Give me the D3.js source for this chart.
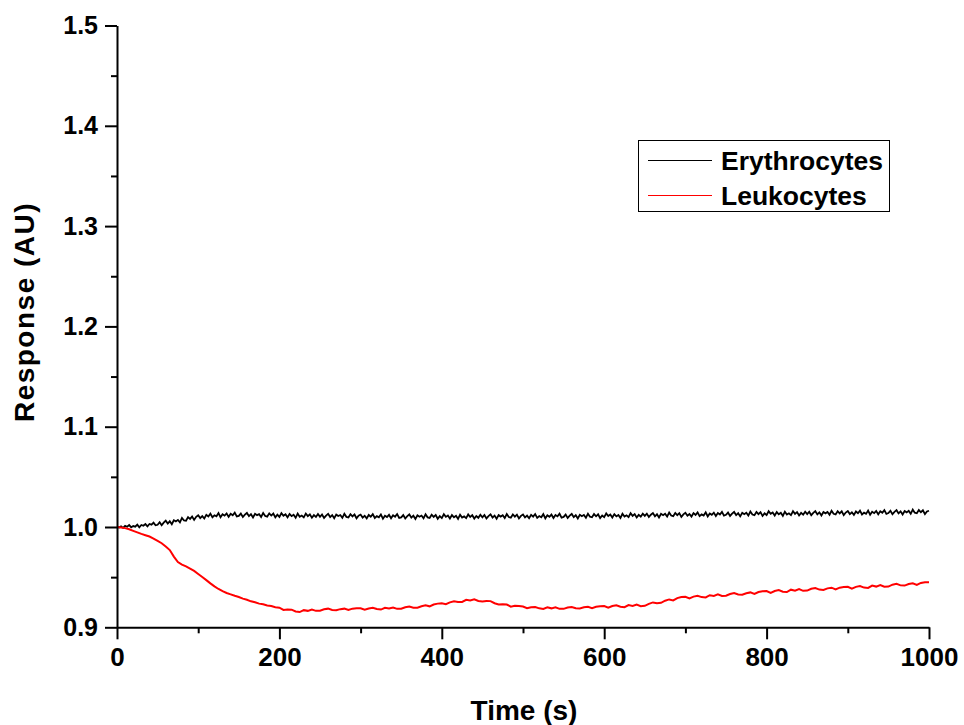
<!DOCTYPE html>
<html>
<head>
<meta charset="utf-8">
<script src="https://cdn.jsdelivr.net/npm/d3@7/dist/d3.min.js"></script>
<style>
  html, body { margin: 0; padding: 0; background: #fff; }
  svg { display: block; }
  text { font-family: "Liberation Sans", Arial, sans-serif; font-weight: bold; fill: #000; }
</style>
</head>
<body>
<svg id="chart" width="964" height="725"></svg>
<script>
// ---------------- data ----------------
const seriesNames = ["Erythrocytes", "Leukocytes"];
const seriesColors = ["#000000", "#ff0000"];
const seriesTimeSteps = [2.5, 5]; // seconds between samples, each series runs 0 to 1000 s
const xTickValues = [0, 200, 400, 600, 800, 1000];
const xMinorTickValues = [100, 300, 500, 700, 900];
const yTickValues = [0.9, 1.0, 1.1, 1.2, 1.3, 1.4, 1.5];
const yMinorTickValues = [0.95, 1.05, 1.15, 1.25, 1.35, 1.45];

const erythrocytes = [
  1.0000, 0.9994, 1.0006, 0.9991, 1.0012, 1.0003, 1.0019, 0.9997, 1.0009, 1.0003,
  1.0024, 0.9997, 1.0020, 1.0012, 1.0029, 1.0007, 1.0030, 1.0023, 1.0043, 1.0018,
  1.0022, 1.0048, 1.0017, 1.0043, 1.0063, 1.0034, 1.0057, 1.0028, 1.0067, 1.0056,
  1.0071, 1.0047, 1.0091, 1.0065, 1.0063, 1.0099, 1.0081, 1.0105, 1.0071, 1.0101,
  1.0117, 1.0089, 1.0109, 1.0085, 1.0121, 1.0105, 1.0133, 1.0097, 1.0117, 1.0107,
  1.0139, 1.0097, 1.0127, 1.0113, 1.0135, 1.0101, 1.0131, 1.0117, 1.0143, 1.0105,
  1.0111, 1.0134, 1.0100, 1.0123, 1.0140, 1.0108, 1.0128, 1.0096, 1.0132, 1.0118,
  1.0128, 1.0100, 1.0140, 1.0110, 1.0104, 1.0136, 1.0114, 1.0134, 1.0096, 1.0122,
  1.0100, 1.0138, 1.0112, 1.0126, 1.0096, 1.0130, 1.0108, 1.0122, 1.0092, 1.0134,
  1.0102, 1.0114, 1.0096, 1.0134, 1.0108, 1.0126, 1.0092, 1.0118, 1.0100, 1.0130,
  1.0102, 1.0125, 1.0091, 1.0114, 1.0131, 1.0099, 1.0119, 1.0087, 1.0123, 1.0109,
  1.0119, 1.0091, 1.0131, 1.0101, 1.0095, 1.0127, 1.0105, 1.0125, 1.0087, 1.0113,
  1.0124, 1.0094, 1.0112, 1.0086, 1.0120, 1.0102, 1.0128, 1.0090, 1.0108, 1.0096,
  1.0125, 1.0083, 1.0113, 1.0099, 1.0121, 1.0087, 1.0117, 1.0103, 1.0129, 1.0091,
  1.0096, 1.0119, 1.0085, 1.0108, 1.0125, 1.0093, 1.0113, 1.0081, 1.0117, 1.0103,
  1.0114, 1.0086, 1.0126, 1.0096, 1.0090, 1.0122, 1.0100, 1.0120, 1.0082, 1.0108,
  1.0089, 1.0127, 1.0101, 1.0115, 1.0085, 1.0119, 1.0097, 1.0111, 1.0081, 1.0123,
  1.0094, 1.0106, 1.0088, 1.0126, 1.0100, 1.0118, 1.0084, 1.0110, 1.0092, 1.0122,
  1.0097, 1.0120, 1.0086, 1.0109, 1.0126, 1.0094, 1.0114, 1.0082, 1.0118, 1.0104,
  1.0117, 1.0089, 1.0129, 1.0099, 1.0093, 1.0125, 1.0103, 1.0123, 1.0085, 1.0111,
  1.0125, 1.0095, 1.0113, 1.0087, 1.0121, 1.0103, 1.0129, 1.0091, 1.0109, 1.0097,
  1.0128, 1.0086, 1.0116, 1.0102, 1.0124, 1.0090, 1.0120, 1.0106, 1.0132, 1.0094,
  1.0101, 1.0124, 1.0090, 1.0113, 1.0130, 1.0098, 1.0118, 1.0086, 1.0122, 1.0108,
  1.0121, 1.0093, 1.0133, 1.0103, 1.0097, 1.0129, 1.0107, 1.0127, 1.0089, 1.0115,
  1.0098, 1.0136, 1.0110, 1.0124, 1.0094, 1.0128, 1.0106, 1.0120, 1.0090, 1.0132,
  1.0105, 1.0117, 1.0099, 1.0137, 1.0111, 1.0129, 1.0095, 1.0121, 1.0103, 1.0133,
  1.0110, 1.0133, 1.0099, 1.0122, 1.0139, 1.0107, 1.0127, 1.0095, 1.0131, 1.0117,
  1.0132, 1.0104, 1.0144, 1.0114, 1.0108, 1.0140, 1.0118, 1.0138, 1.0100, 1.0126,
  1.0142, 1.0112, 1.0130, 1.0104, 1.0138, 1.0120, 1.0146, 1.0108, 1.0126, 1.0114,
  1.0147, 1.0105, 1.0135, 1.0121, 1.0143, 1.0109, 1.0139, 1.0125, 1.0151, 1.0113,
  1.0121, 1.0144, 1.0110, 1.0133, 1.0150, 1.0118, 1.0138, 1.0106, 1.0142, 1.0128,
  1.0142, 1.0114, 1.0154, 1.0124, 1.0118, 1.0150, 1.0128, 1.0148, 1.0110, 1.0136,
  1.0119, 1.0157, 1.0131, 1.0145, 1.0115, 1.0149, 1.0127, 1.0141, 1.0111, 1.0153,
  1.0125, 1.0137, 1.0119, 1.0157, 1.0131, 1.0149, 1.0115, 1.0141, 1.0123, 1.0153,
  1.0129, 1.0152, 1.0118, 1.0141, 1.0158, 1.0126, 1.0146, 1.0114, 1.0150, 1.0136,
  1.0150, 1.0122, 1.0162, 1.0132, 1.0126, 1.0158, 1.0136, 1.0156, 1.0118, 1.0144,
  1.0159, 1.0129, 1.0147, 1.0121, 1.0155, 1.0137, 1.0163, 1.0125, 1.0143, 1.0131,
  1.0164, 1.0122, 1.0152, 1.0138, 1.0160, 1.0126, 1.0156, 1.0142, 1.0168, 1.0130,
  1.0139, 1.0162, 1.0128, 1.0151, 1.0168, 1.0136, 1.0156, 1.0124, 1.0160, 1.0146,
  1.0161, 1.0133, 1.0173, 1.0143, 1.0137, 1.0169, 1.0147, 1.0167, 1.0129, 1.0155,
  1.0162
];

const leukocytes = [
  1.0000, 0.9996, 0.9989, 0.9978, 0.9962, 0.9947, 0.9931, 0.9918, 0.9905, 0.9885,
  0.9862, 0.9838, 0.9805, 0.9770, 0.9705, 0.9650, 0.9625, 0.9607, 0.9585, 0.9562,
  0.9532, 0.9502, 0.9470, 0.9438, 0.9408, 0.9382, 0.9360, 0.9342, 0.9328, 0.9314,
  0.9302, 0.9286, 0.9275, 0.9259, 0.9250, 0.9236, 0.9230, 0.9218, 0.9212, 0.9200,
  0.9196, 0.9173, 0.9178, 0.9176, 0.9158, 0.9152, 0.9171, 0.9164, 0.9177, 0.9164,
  0.9165, 0.9179, 0.9186, 0.9173, 0.9170, 0.9181, 0.9186, 0.9172, 0.9186, 0.9191,
  0.9190, 0.9176, 0.9188, 0.9194, 0.9182, 0.9177, 0.9195, 0.9187, 0.9198, 0.9184,
  0.9185, 0.9199, 0.9207, 0.9196, 0.9196, 0.9210, 0.9219, 0.9209, 0.9227, 0.9236,
  0.9240, 0.9231, 0.9249, 0.9260, 0.9253, 0.9253, 0.9274, 0.9267, 0.9279, 0.9262,
  0.9257, 0.9263, 0.9261, 0.9240, 0.9228, 0.9230, 0.9227, 0.9206, 0.9214, 0.9213,
  0.9207, 0.9190, 0.9200, 0.9203, 0.9189, 0.9183, 0.9199, 0.9189, 0.9200, 0.9184,
  0.9184, 0.9197, 0.9203, 0.9191, 0.9188, 0.9199, 0.9204, 0.9191, 0.9205, 0.9211,
  0.9212, 0.9195, 0.9212, 0.9219, 0.9205, 0.9200, 0.9221, 0.9213, 0.9227, 0.9211,
  0.9214, 0.9234, 0.9248, 0.9240, 0.9244, 0.9265, 0.9278, 0.9268, 0.9291, 0.9302,
  0.9304, 0.9289, 0.9306, 0.9315, 0.9301, 0.9298, 0.9320, 0.9313, 0.9328, 0.9313,
  0.9315, 0.9332, 0.9341, 0.9327, 0.9325, 0.9340, 0.9348, 0.9333, 0.9352, 0.9360,
  0.9362, 0.9344, 0.9362, 0.9371, 0.9355, 0.9351, 0.9375, 0.9365, 0.9382, 0.9364,
  0.9366, 0.9384, 0.9392, 0.9376, 0.9373, 0.9388, 0.9395, 0.9377, 0.9395, 0.9402,
  0.9403, 0.9385, 0.9403, 0.9412, 0.9396, 0.9392, 0.9416, 0.9406, 0.9422, 0.9404,
  0.9406, 0.9425, 0.9433, 0.9418, 0.9416, 0.9431, 0.9439, 0.9422, 0.9442, 0.9450,
  0.9448
];

// ---------------- layout ----------------
const svg = d3.select("#chart");
const x = d3.scaleLinear().domain([0, 1000]).range([117, 929]);
const y = d3.scaleLinear().domain([0.9, 1.5]).range([627.3, 25.5]);

const allSeries = [erythrocytes, leukocytes];
const strokeWidths = [1.8, 2];

svg.append("g").selectAll("path")
  .data(allSeries)
  .join("path")
  .attr("d", (d, s) => d3.line()
      .x((v, i) => x(i * seriesTimeSteps[s]))
      .y(v => y(v))(d))
  .attr("fill", "none")
  .attr("stroke", (d, i) => seriesColors[i])
  .attr("stroke-width", (d, i) => strokeWidths[i])
  .attr("stroke-linejoin", "miter");

// axes
function styleAxis(g, fontSize) {
  g.selectAll("path.domain").attr("stroke", "#000").attr("stroke-width", 2);
  g.selectAll(".tick line").attr("stroke", "#000").attr("stroke-width", 2);
  g.selectAll(".tick text")
    .style("font-family", '"Liberation Sans", Arial, sans-serif')
    .style("font-weight", "bold")
    .style("font-size", fontSize + "px")
    .attr("fill", "#000");
}

const xAxisMinor = svg.append("g")
  .attr("transform", `translate(0,${y(0.9)})`)
  .call(d3.axisBottom(x).tickValues(xMinorTickValues).tickSize(6).tickSizeOuter(0).tickFormat(""));
styleAxis(xAxisMinor, 26);
xAxisMinor.select("path.domain").remove();

const xAxis = svg.append("g")
  .attr("transform", `translate(0,${y(0.9)})`)
  .call(d3.axisBottom(x).tickValues(xTickValues).tickSize(12).tickSizeOuter(0).tickPadding(8).tickFormat(d3.format("d")));
styleAxis(xAxis, 26);

const yAxisMinor = svg.append("g")
  .attr("transform", `translate(${x(0)},0)`)
  .call(d3.axisLeft(y).tickValues(yMinorTickValues).tickSize(6).tickSizeOuter(0).tickFormat(""));
styleAxis(yAxisMinor, 25);
yAxisMinor.select("path.domain").remove();

const yAxis = svg.append("g")
  .attr("transform", `translate(${x(0)},0)`)
  .call(d3.axisLeft(y).tickValues(yTickValues).tickSize(12).tickSizeOuter(0).tickPadding(7).tickFormat(d3.format(".1f")));
styleAxis(yAxis, 25);

// axis titles
svg.append("text")
  .attr("x", 524).attr("y", 720)
  .attr("text-anchor", "middle")
  .style("font-size", "28px")
  .text("Time (s)");

svg.append("text")
  .attr("transform", "translate(34,312) rotate(-90)")
  .attr("text-anchor", "middle")
  .style("font-size", "28px")
  .style("letter-spacing", "1.5px")
  .text("Response (AU)");

// legend
const legend = svg.append("g");
legend.append("rect")
  .attr("x", 638.5).attr("y", 140.5)
  .attr("width", 251).attr("height", 71)
  .attr("fill", "#fff").attr("stroke", "#000").attr("stroke-width", 1);

const legendRows = legend.selectAll("g.row")
  .data(seriesNames)
  .join("g")
  .attr("class", "row")
  .attr("transform", (d, i) => `translate(0,${160.5 + i * 35})`);

legendRows.append("line")
  .attr("x1", 648).attr("x2", 712)
  .attr("stroke", (d, i) => seriesColors[i])
  .attr("stroke-width", 1);

legendRows.append("text")
  .attr("x", 721).attr("y", 9)
  .style("font-size", "26.5px")
  .text(d => d);
</script>
</body>
</html>
